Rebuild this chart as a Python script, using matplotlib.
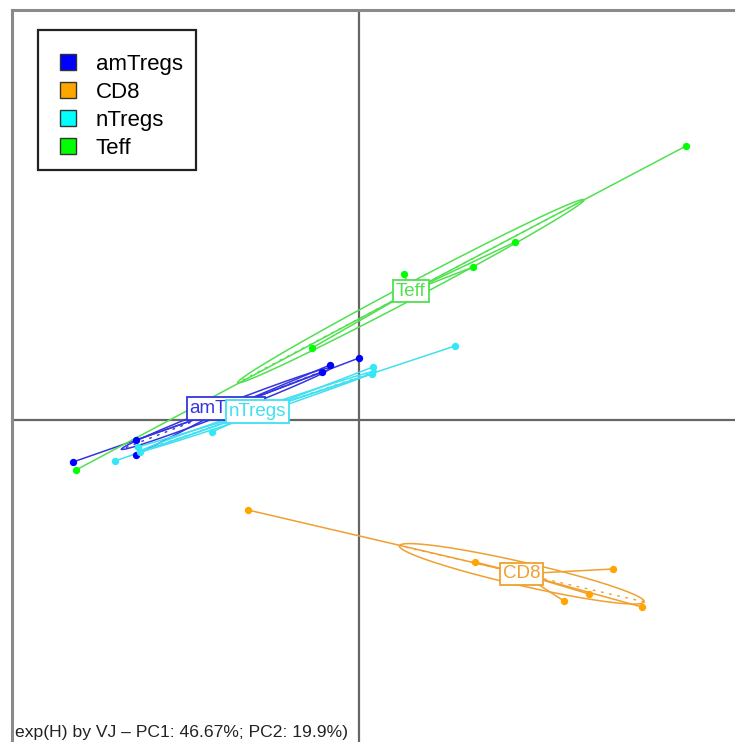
import numpy as np
import matplotlib
matplotlib.use("Agg")
import matplotlib.pyplot as plt
from matplotlib.patches import Patch, Rectangle

plt.rcParams['font.family'] = ['Liberation Sans', 'DejaVu Sans']

# ---- data (PC1 / PC2 scores) ----
groups = ["amTregs", "CD8", "nTregs", "Teff"]
colors = ["#0000FF", "#FFA500", "#00FFFF", "#00FF00"]
line_colors = ["#3535E0", "#F0A030", "#40E0F0", "#50E050"]

amTregs_pc1 = [-2.86, -2.23, -2.23, -0.37, -0.29, 0.00]
amTregs_pc2 = [-0.42, -0.35, -0.20, 0.48, 0.55, 0.62]

CD8_pc1 = [-1.11, 1.16, 2.54, 2.05, 2.30, 2.83]
CD8_pc2 = [-0.90, -1.42, -1.49, -1.81, -1.74, -1.87]

nTregs_pc1 = [-2.44, -2.21, -2.19, -1.47, 0.13, 0.14, 0.96]
nTregs_pc2 = [-0.41, -0.27, -0.32, -0.12, 0.46, 0.53, 0.74]

Teff_pc1 = [3.27, 0.45, 1.14, 1.56, -0.47, -2.83]
Teff_pc2 = [2.74, 1.46, 1.53, 1.78, 0.72, -0.50]

data = {
    "amTregs": (amTregs_pc1, amTregs_pc2),
    "CD8": (CD8_pc1, CD8_pc2),
    "nTregs": (nTregs_pc1, nTregs_pc2),
    "Teff": (Teff_pc1, Teff_pc2),
}
subtitle = "exp(H) by VJ \u2013 PC1: 46.67%; PC2: 19.9%)"
cellipse = 0.92

W, H = 735, 742
fig = plt.figure(figsize=(W / 100, H / 100), dpi=100)
ax = fig.add_axes([12 / W, -18 / H, 748 / W, 750 / H])
ax.set_xlim(-3.47, 4.01)
ax.set_ylim(-3.40, 4.10)
ax.set_xticks([]); ax.set_yticks([])
for s in ["right", "bottom"]:
    ax.spines[s].set_visible(False)
for s in ["left", "top"]:
    ax.spines[s].set_color("#8a8a8a")
    ax.spines[s].set_linewidth(2.2)

ax.axhline(0, color="#666666", lw=1.6, zorder=1)
ax.axvline(0, color="#666666", lw=1.6, zorder=1)

centers = {}
for g, c, lc in zip(groups, colors, line_colors):
    x = np.array(data[g][0]); y = np.array(data[g][1])
    mx, my = x.mean(), y.mean()
    centers[g] = (mx, my)
    cov = np.cov(np.vstack([x, y]), bias=True)
    vals, vecs = np.linalg.eigh(cov)
    t = np.linspace(0, 2 * np.pi, 200)
    a = cellipse * np.sqrt(vals[1]); b = cellipse * np.sqrt(max(vals[0], 0))
    v1 = vecs[:, 1]; v0 = vecs[:, 0]
    ex = mx + a * np.cos(t) * v1[0] + b * np.sin(t) * v0[0]
    ey = my + a * np.cos(t) * v1[1] + b * np.sin(t) * v0[1]
    ax.plot(ex, ey, color=lc, lw=1.1, zorder=2)
    ax.plot([mx - a * v1[0], mx + a * v1[0]], [my - a * v1[1], my + a * v1[1]],
            color=lc, lw=1.0, ls=(0, (2, 4)), zorder=2)
    for xi, yi in zip(x, y):
        ax.plot([mx, xi], [my, yi], color=lc, lw=1.1, zorder=2)
    ax.scatter(x, y, s=28, color=c if g != "nTregs" else "#33E8F5", zorder=3, linewidths=0)

for g, c, lc in zip(groups, colors, line_colors):
    mx, my = centers[g]
    ax.text(mx, my, g, color=lc, fontsize=13.5, ha="center", va="center", zorder=5,
            bbox=dict(boxstyle="square,pad=0.15", facecolor="white", edgecolor=lc, lw=1.3))

# legend box (drawn separately) and legend entries
fig.patches.append(Rectangle((38 / W, 1 - 170 / H), 158 / W, 140 / H, transform=fig.transFigure,
                             facecolor="white", edgecolor="#222222", lw=1.6, zorder=6))
handles = [Patch(facecolor=c, edgecolor="#333333", lw=1.0) for c in colors]
leg = fig.legend(handles, groups, loc="upper left", bbox_to_anchor=(60 / W, 1 - 54 / H),
                 bbox_transform=fig.transFigure,
                 fontsize=16, frameon=False, handlelength=0.72,
                 handleheight=0.7, handletextpad=0.9, labelspacing=0.31,
                 borderpad=0.0, borderaxespad=0.0)
leg.set_zorder(7)

fig.text(15 / W, 2 / H, subtitle, fontsize=12.6, color="#222222", ha="left", va="bottom",
         bbox=dict(facecolor="white", edgecolor="none", pad=1))

fig.savefig("out.png", dpi=100)
